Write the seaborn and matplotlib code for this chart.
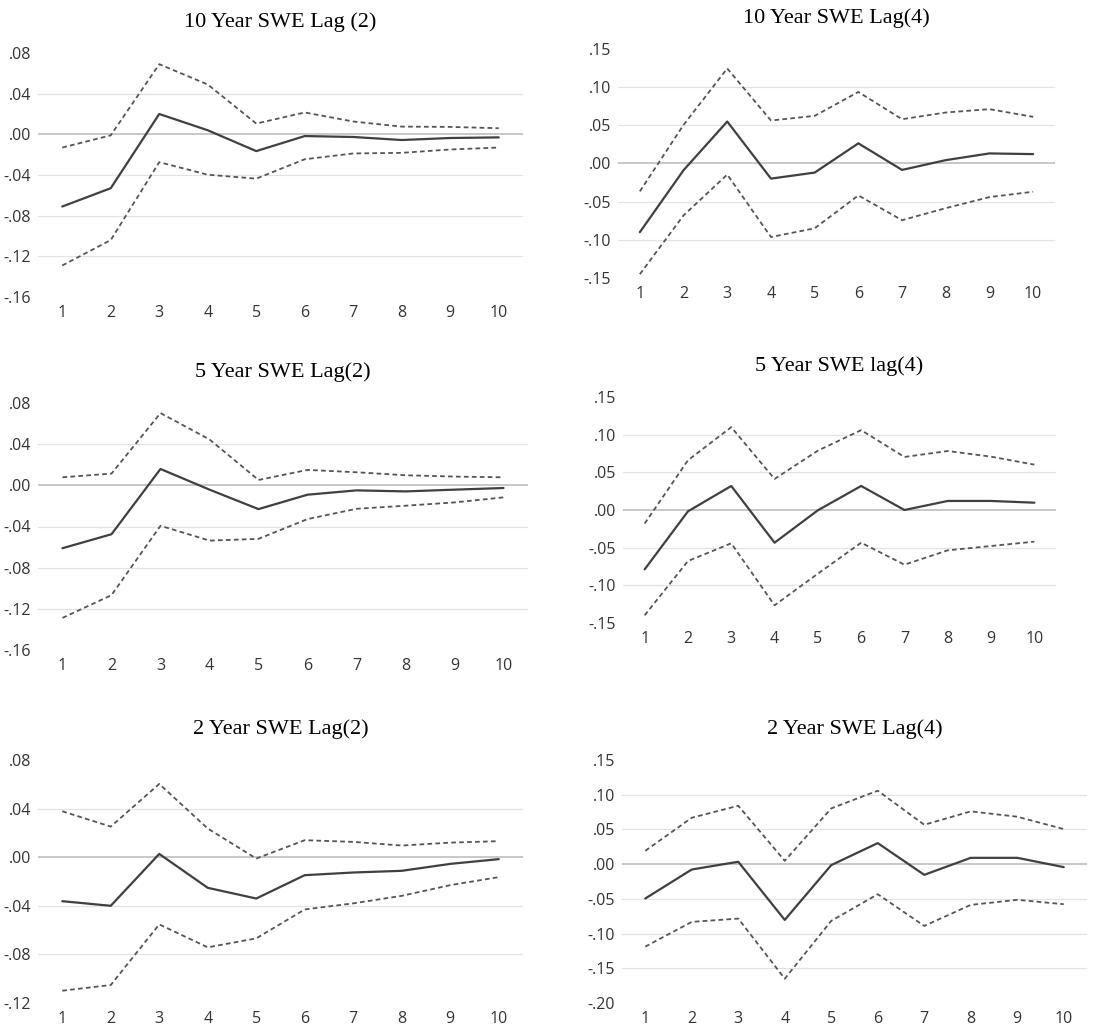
import numpy as np
import pandas as pd
import seaborn as sns
import matplotlib.pyplot as plt
from matplotlib.ticker import FuncFormatter

sns.set_style("white")
plt.rcParams['font.family'] = ['Liberation Serif', 'DejaVu Serif']

# horizon (periods after the shock)
steps = [1, 2, 3, 4, 5, 6, 7, 8, 9, 10]

# 10 year SWE, lag 2
y10_l2_irf = [-0.071, -0.053, 0.020, 0.004, -0.0165, -0.0017, -0.0026, -0.0056, -0.0036, -0.0030]
y10_l2_up = [-0.013, -0.001, 0.069, 0.049, 0.0106, 0.0215, 0.0126, 0.0076, 0.0073, 0.0060]
y10_l2_lo = [-0.129, -0.104, -0.0274, -0.0397, -0.0436, -0.0245, -0.0188, -0.0182, -0.0149, -0.0130]

# 10 year SWE, lag 4
y10_l4_irf = [-0.090, -0.0088, 0.055, -0.0198, -0.0119, 0.0264, -0.0084, 0.0044, 0.0132, 0.0123]
y10_l4_up = [-0.0365, 0.0506, 0.1245, 0.0563, 0.0624, 0.0937, 0.058, 0.0668, 0.0712, 0.0611]
y10_l4_lo = [-0.145, -0.068, -0.0145, -0.0963, -0.0849, -0.0418, -0.0743, -0.0585, -0.044, -0.037]

# 5 year SWE, lag 2
y5_l2_irf = [-0.0611, -0.0475, 0.0159, -0.0042, -0.0231, -0.0091, -0.0049, -0.0059, -0.0042, -0.0026]
y5_l2_up = [0.0078, 0.0114, 0.0702, 0.0446, 0.0052, 0.015, 0.0127, 0.0098, 0.0085, 0.0078]
y5_l2_lo = [-0.1288, -0.1067, -0.0393, -0.0537, -0.052, -0.0328, -0.0228, -0.0198, -0.0166, -0.0117]

# 5 year SWE, lag 4
y5_l4_irf = [-0.0788, -0.0018, 0.0319, -0.0434, -0.0004, 0.0319, 0.0, 0.012, 0.012, 0.0097]
y5_l4_up = [-0.018, 0.066, 0.110, 0.0412, 0.0788, 0.106, 0.0704, 0.0783, 0.0708, 0.0602]
y5_l4_lo = [-0.1398, -0.0677, -0.0442, -0.1265, -0.0845, -0.0434, -0.0726, -0.0535, -0.0478, -0.042]

# 2 year SWE, lag 2
y2_l2_irf = [-0.0362, -0.040, 0.0027, -0.0252, -0.034, -0.0148, -0.0126, -0.0112, -0.0055, -0.0016]
y2_l2_up = [0.0378, 0.0252, 0.0603, 0.0236, -0.0011, 0.014, 0.0126, 0.0096, 0.012, 0.0132]
y2_l2_lo = [-0.1099, -0.1052, -0.0553, -0.0742, -0.0668, -0.043, -0.038, -0.0318, -0.023, -0.0164]

# 2 year SWE, lag 4
y2_l4_irf = [-0.0495, -0.0077, 0.0034, -0.0803, -0.0014, 0.0303, -0.0154, 0.0091, 0.0091, -0.0043]
y2_l4_up = [0.0192, 0.0668, 0.0841, 0.0048, 0.0803, 0.1058, 0.0567, 0.076, 0.0683, 0.0505]
y2_l4_lo = [-0.1188, -0.0832, -0.0784, -0.165, -0.0817, -0.0433, -0.089, -0.0587, -0.0514, -0.0577]

ticks_left = [-0.16, -0.12, -0.08, -0.04, 0.0, 0.04, 0.08]
ticks_left_bottom = [-0.12, -0.08, -0.04, 0.0, 0.04, 0.08]
ticks_right = [-0.15, -0.10, -0.05, 0.0, 0.05, 0.10, 0.15]
ticks_right_bottom = [-0.20, -0.15, -0.10, -0.05, 0.0, 0.05, 0.10, 0.15]

panels = [
    ("10 Year SWE Lag (2)", y10_l2_irf, y10_l2_up, y10_l2_lo, ticks_left),
    ("10 Year SWE Lag(4)", y10_l4_irf, y10_l4_up, y10_l4_lo, ticks_right),
    ("5 Year SWE Lag(2)", y5_l2_irf, y5_l2_up, y5_l2_lo, ticks_left),
    ("5 Year SWE lag(4)", y5_l4_irf, y5_l4_up, y5_l4_lo, ticks_right),
    ("2 Year SWE Lag(2)", y2_l2_irf, y2_l2_up, y2_l2_lo, ticks_left_bottom),
    ("2 Year SWE Lag(4)", y2_l4_irf, y2_l4_up, y2_l4_lo, ticks_right_bottom),
]

# axes boxes in pixels: left, right, top, bottom
W, H = 1104, 1028
boxes = [
    (38, 523, 53, 297),
    (618, 1055, 49, 278),
    (38, 528, 403, 650),
    (623, 1056, 397, 623),
    (38, 523, 760, 1003),
    (622, 1087, 760, 1003),
]

fig = plt.figure(figsize=(W / 100, H / 100), dpi=100)
fmt = FuncFormatter(lambda v, p: f"{v:.2f}".replace("0.", ".", 1))

for (title, irf, up, lo, yt), (l, r, t, b) in zip(panels, boxes):
    ax = fig.add_axes([l / W, 1 - b / H, (r - l) / W, (b - t) / H])
    df = pd.DataFrame({"step": steps, "irf": irf, "up": up, "lo": lo})
    for v in yt[1:-1]:
        if v == 0:
            ax.axhline(v, color="#c4c4c4", lw=1.3, zorder=0)
        else:
            ax.axhline(v, color="#e3e3e3", lw=0.9, zorder=0)
    sns.lineplot(data=df, x="step", y="up", ax=ax, color="#555555", lw=1.3,
                 linestyle=(0, (2.6, 1.8)))
    sns.lineplot(data=df, x="step", y="lo", ax=ax, color="#555555", lw=1.3,
                 linestyle=(0, (2.6, 1.8)))
    sns.lineplot(data=df, x="step", y="irf", ax=ax, color="#404040", lw=1.6)
    ax.set_xlim(0.5, 10.5)
    ax.set_ylim(yt[0], yt[-1])
    ax.set_xticks(steps)
    ax.set_yticks(yt)
    ax.yaxis.set_major_formatter(fmt)
    ax.set_xlabel("")
    ax.set_ylabel("")
    for s in ax.spines.values():
        s.set_visible(False)
    ax.tick_params(length=0, labelsize=11.5, labelcolor="#333333")
    ax.tick_params(axis="y", pad=5)
    ax.tick_params(axis="x", pad=6)
    for lab in ax.get_xticklabels() + ax.get_yticklabels():
        lab.set_family(["Open Sans", "DejaVu Sans"])
    ax.set_title(title, fontsize=16, pad=19, color="black")

fig.savefig("out.png", dpi=100)
